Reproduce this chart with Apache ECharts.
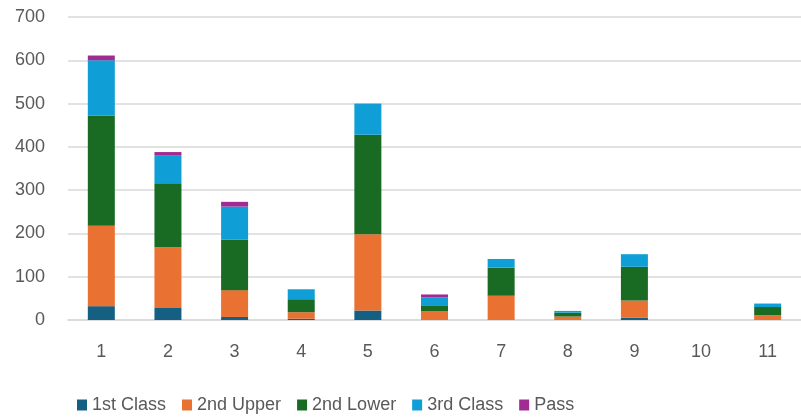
<!DOCTYPE html>
<html>
<head>
<meta charset="utf-8">
<script src="https://cdn.jsdelivr.net/npm/echarts@6/dist/echarts.min.js"></script>
<style>
  html, body { margin: 0; padding: 0; background: #fff; }
  #chart { width: 801px; height: 419px; }
</style>
</head>
<body>
<div id="chart"></div>
<script>
// Degree classification counts per group
const categories = ['1', '2', '3', '4', '5', '6', '7', '8', '9', '10', '11'];
const firstClass  = [32, 28, 7, 3, 22, 0, 0, 0, 5, 0, 0];
const secondUpper = [186, 140, 62, 15, 176, 20, 56, 8, 40, 0, 11];
const secondLower = [254, 148, 117, 30, 230, 14, 65, 9, 78, 0, 19];
const thirdClass  = [128, 65, 76, 23, 72, 18, 20, 4, 29, 0, 8];
const pass        = [11, 7, 11, 0, 0, 7, 0, 0, 0, 0, 0];

const seriesNames = ['1st Class', '2nd Upper', '2nd Lower', '3rd Class', 'Pass'];
const seriesData = [firstClass, secondUpper, secondLower, thirdClass, pass];
const colors = ['#156082', '#E97132', '#196B24', '#0F9ED5', '#A02B93'];

const fontFamily = 'Liberation Sans, Arial, sans-serif';
const chart = echarts.init(document.getElementById('chart'));

chart.setOption({
  animation: false,
  color: colors,
  grid: { left: 68, right: 0, top: 17, bottom: 99 },
  legend: {
    left: 72,
    bottom: 0,
    itemWidth: 10,
    itemHeight: 11,
    itemGap: 16,
    icon: 'rect',
    textStyle: { color: '#595959', fontSize: 18, fontFamily: fontFamily },
    data: seriesNames
  },
  xAxis: {
    type: 'category',
    data: categories,
    axisLine: { lineStyle: { color: '#d9d9d9', width: 1.5 } },
    axisTick: { show: false },
    axisLabel: { color: '#595959', fontSize: 18, fontFamily: fontFamily, margin: 23 }
  },
  yAxis: {
    type: 'value',
    min: 0,
    max: 700,
    interval: 100,
    axisLine: { show: false },
    axisTick: { show: false },
    splitLine: { lineStyle: { color: '#d9d9d9', width: 1.5 } },
    axisLabel: { color: '#595959', fontSize: 18, fontFamily: fontFamily, margin: 23 }
  },
  series: seriesNames.map((name, i) => ({
    name: name,
    type: 'bar',
    stack: 'total',
    barWidth: 27,
    data: seriesData[i],
    itemStyle: { color: colors[i] }
  }))
});
</script>
</body>
</html>
